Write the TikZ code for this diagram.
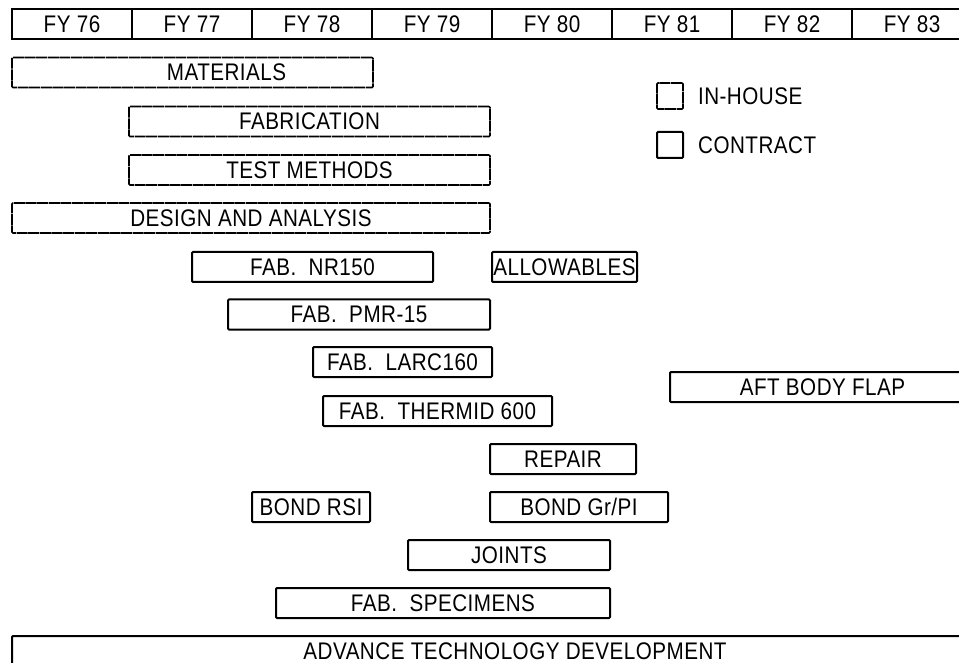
\documentclass[tikz,border=0pt]{standalone}
\usepackage{fontspec}
\setmainfont{Liberation Sans}[FakeStretch=0.86, LetterSpace=2]
\usetikzlibrary{positioning}
\tikzset{
  every node/.style={font=\fontsize{24}{28}\selectfont, inner sep=0pt},
  inhouse/.style={draw, line width=1.7pt, dash pattern=on 11pt off 0.6pt, minimum height=30pt, rounded corners=1pt},
  contract/.style={draw, line width=2pt, minimum height=30pt, rounded corners=1pt},
}
\begin{document}
\begin{tikzpicture}[x=1pt,y=-1pt]
\useasboundingbox (0,0) rectangle (959,663);
% fiscal years
\foreach \yr [count=\i from 0] in {76,...,83}
  \node[draw, line width=1.1pt, minimum width=120pt, minimum height=30pt] (fy\yr) at (72+120*\i,24) {FY \yr};
\draw[line width=1.8pt] (fy76.north west) rectangle (fy83.south east);
% tasks
\node[inhouse, minimum width=361pt, label={[xshift=34pt]center:MATERIALS}] (mat) at (192.5,72.5) {};
\node[inhouse, minimum width=361pt] (fab) at (309.5,121.5) {FABRICATION};
\node[inhouse, minimum width=361pt] (test) at (309.5,170) {TEST METHODS};
\node[inhouse, minimum width=478pt] (design) at (251,218) {DESIGN AND ANALYSIS};
\node[contract, minimum width=241pt] (nr) at (312.5,267) {FAB.\ \ NR150};
\node[contract, minimum width=145pt] (allow) at (564.5,267) {ALLOWABLES};
\node[contract, minimum width=262pt] (pmr) at (359,314.5) {FAB.\ \ PMR-15};
\node[contract, minimum width=179pt] (larc) at (402.5,362) {FAB.\ \ LARC160};
\node[contract, minimum width=229pt] (thermid) at (437.5,411) {FAB.\ \ THERMID 600};
\node[contract, minimum width=305pt] (aft) at (822.5,387) {AFT BODY FLAP};
\node[contract, minimum width=146pt] (repair) at (563,459) {REPAIR};
\node[contract, minimum width=118pt] (bondrsi) at (311,507) {BOND RSI};
\node[contract, minimum width=178pt] (bondgr) at (579,507) {BOND Gr/PI};
\node[contract, minimum width=202pt] (joints) at (509,555) {JOINTS};
\node[contract, minimum width=334pt] (spec) at (443,603) {FAB.\ \ SPECIMENS};
\node[contract, minimum width=1006pt] (atd) at (515,651) {ADVANCE TECHNOLOGY DEVELOPMENT};
% legend
\node[inhouse, minimum width=26pt, minimum height=26pt] (ih) at (670,96) {};
\node[right=14pt of ih] (ihtext) {IN-HOUSE};
\node[contract, minimum width=26pt, minimum height=26pt] (ct) at (670,145) {};
\node[right=14pt of ct] (cttext) {CONTRACT};
\end{tikzpicture}
\end{document}
